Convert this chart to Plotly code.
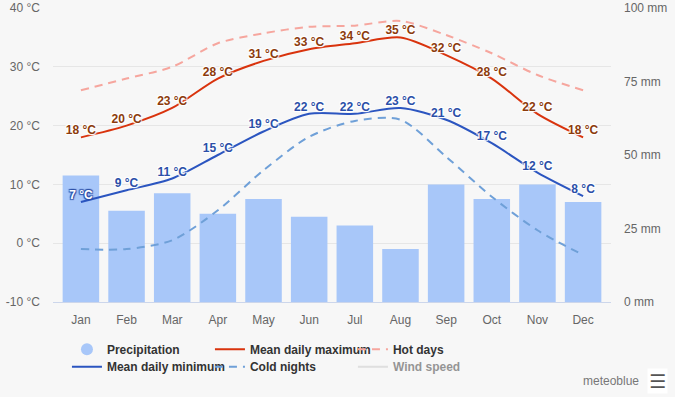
import plotly.graph_objects as go

MONTHS = ["Jan", "Feb", "Mar", "Apr", "May", "Jun", "Jul", "Aug", "Sep", "Oct", "Nov", "Dec"]
PRECIP = [43, 31, 37, 30, 35, 29, 26, 18, 40, 35, 40, 34]
TMAX = [18, 20, 23, 28, 31, 33, 34, 35, 32, 28, 22, 18]
TMIN = [7, 9, 11, 15, 19, 22, 22, 23, 21, 17, 12, 8]
HOT = [26, 28, 30, 34, 35.7, 36.8, 37, 37.8, 35.4, 32.3, 28.6, 26]
COLD = [-1, -1, 0.5, 5.6, 12.4, 18.1, 20.8, 21, 14.7, 7.9, 2.2, -2]
WIND = [None] * 12

TEMP_TICKS = [-10, 0, 10, 20, 30, 40]
TEMP_LABELS = ["-10 °C", "0 °C", "10 °C", "20 °C", "30 °C", "40 °C"]
MM_TICKS = [0, 25, 50, 75, 100]
MM_LABELS = ["0 mm", "25 mm", "50 mm", "75 mm", "100 mm"]

FONT = "Liberation Sans"
BG = "#f7f7f7"
MIN_LABEL = "#2b4fa8"
BLUE_OUTLINE = ", ".join(f"{dx}px {dy}px 1px {MIN_LABEL}" for dx, dy in
                         [(1, 1), (-1, -1), (1, -1), (-1, 1)])

fig = go.Figure()

fig.add_trace(go.Bar(
    x=MONTHS, y=PRECIP, yaxis="y", name="Precipitation",
    marker=dict(color="#a8c7f9", line=dict(width=0)),
    showlegend=False, hoverinfo="y",
))
# legend entry for precipitation (circle symbol)
fig.add_trace(go.Scatter(
    x=[None], y=[None], mode="markers", name="Precipitation",
    marker=dict(symbol="circle", size=12, color="#a8c7f9"), legend="legend",
))
fig.add_trace(go.Scatter(
    x=MONTHS, y=TMAX, yaxis="y2", name="Mean daily maximum", mode="lines+text",
    line=dict(color="#d9330d", width=2, shape="spline", smoothing=0.8),
    text=[f"{v} °C" for v in TMAX], textposition="top center",
    textfont=dict(family=FONT, size=12, color="#8c3b0c", weight="bold", shadow="auto"),
    legend="legend",
))
fig.add_trace(go.Scatter(
    x=MONTHS, y=HOT, yaxis="y2", name="Hot days", mode="lines",
    line=dict(color="#f6a69e", width=2, dash="8px,6px", shape="spline", smoothing=0.8),
    legend="legend",
))
fig.add_trace(go.Scatter(
    x=MONTHS, y=TMIN, yaxis="y2", name="Mean daily minimum", mode="lines+text",
    line=dict(color="#2b55c0", width=2, shape="spline", smoothing=0.8),
    text=[f"{v} °C" for v in TMIN], textposition="top center",
    textfont=dict(family=FONT, size=12,
                  color=["#ffffff"] + [MIN_LABEL] * (len(TMIN) - 1),
                  weight="bold",
                  shadow=[BLUE_OUTLINE] + ["auto"] * (len(TMIN) - 1)),
    legend="legend2",
))
fig.add_trace(go.Scatter(
    x=MONTHS, y=COLD, yaxis="y2", name="Cold nights", mode="lines",
    line=dict(color="#6fa0d8", width=2, dash="8px,6px", shape="spline", smoothing=0.8),
    legend="legend2",
))
fig.add_trace(go.Scatter(
    x=MONTHS, y=WIND, yaxis="y2", name="Wind speed", mode="lines",
    line=dict(color="#c8c8c8", width=2), visible="legendonly",
    legend="legend2",
))

legend_common = dict(
    orientation="h", xanchor="left", yanchor="top",
    font=dict(family=FONT, size=12, color="#333333", weight="bold"),
    bgcolor="rgba(0,0,0,0)", entrywidth=98, entrywidthmode="pixels",
    itemclick=False, itemdoubleclick=False, tracegroupgap=0,
)

TICKFONT = dict(family=FONT, size=12, color="#666666")

fig.update_layout(
    width=675, height=397,
    margin=dict(l=53, r=64, t=8, b=95, autoexpand=False),
    paper_bgcolor=BG, plot_bgcolor=BG,
    bargap=0.2,
    font=dict(family=FONT, size=12, color="#666666"),
    xaxis=dict(
        type="category", showgrid=False, showline=True, linecolor="#ccd6eb",
        linewidth=1, ticks="", ticklabelstandoff=7,
        tickfont=TICKFONT, fixedrange=True,
    ),
    yaxis=dict(
        range=[0, 100], tickvals=MM_TICKS, ticktext=MM_LABELS,
        side="right", showgrid=False, zeroline=False, ticklabelstandoff=12,
        minor=dict(tick0=0, dtick=20, showgrid=True, gridcolor="#e6e6e6",
                   gridwidth=1, ticks=""),
        tickfont=TICKFONT, fixedrange=True,
    ),
    yaxis2=dict(
        range=[-10, 40], tickvals=TEMP_TICKS, ticktext=TEMP_LABELS,
        overlaying="y", side="left", showgrid=False, zeroline=False,
        ticklabelstandoff=12, tickfont=TICKFONT, fixedrange=True,
    ),
    legend=dict(x=0.025, y=-0.111, **legend_common),
    legend2=dict(x=0.025, y=-0.171, **legend_common),
    showlegend=True,
    annotations=[
        dict(text="meteoblue", xref="paper", yref="paper", x=1.054, y=-0.269,
             xanchor="right", yanchor="middle", showarrow=False,
             font=dict(family=FONT, size=12, color="#777777")),
        dict(text="<b>☰</b>", xref="paper", yref="paper", x=1.084, y=-0.269,
             xanchor="center", yanchor="middle", showarrow=False,
             bgcolor="#ffffff", borderpad=1,
             font=dict(family="DejaVu Sans", size=19, color="#555555")),
    ],
)

fig.write_html(
    "out.html",
    config={"displayModeBar": False},
    post_script="document.body.style.margin='0';document.body.style.background='%s';" % BG,
)
